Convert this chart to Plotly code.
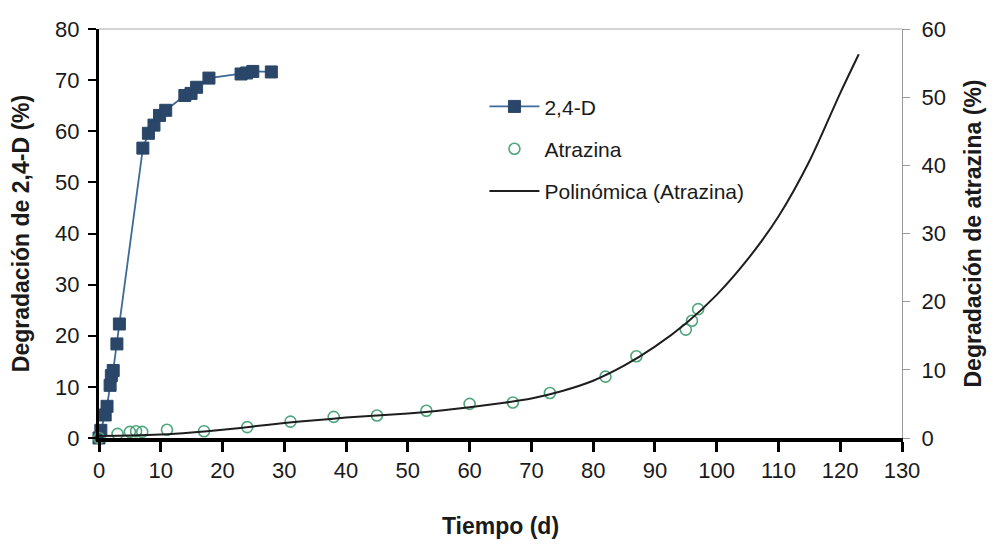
import plotly.graph_objects as go

# 2,4-D degradation (%) vs time (days) - left axis
d24_t = [0, 0.3, 1.0, 1.3, 1.8, 2.0, 2.3, 2.9, 3.3, 7.1, 8.0, 8.9, 9.8, 10.8,
         13.9, 14.9, 15.8, 17.8, 23.0, 23.9, 24.9, 27.9]
d24_deg = [0, 1.5, 4.5, 6.2, 10.3, 12.2, 13.2, 18.4, 22.3, 56.7, 59.6, 61.2, 63.1, 64.1,
           67.0, 67.4, 68.6, 70.4, 71.2, 71.4, 71.7, 71.6]

# Atrazine degradation (%) vs time (days) - right axis
atz_t = [0, 3, 5, 6, 7, 11, 17, 24, 31, 38, 45, 53, 60, 67, 73, 82, 87, 95, 96, 97]
atz_deg = [0, 0.6, 0.9, 1.0, 0.9, 1.2, 1.0, 1.6, 2.4, 3.1, 3.3, 4.0, 5.0, 5.2, 6.6,
           9.0, 12.0, 15.9, 17.2, 18.9]

# Polynomial trend of atrazine degradation, sampled along the curve
trend_t = [0, 5, 10, 15, 20, 25, 30, 35, 40, 45, 50, 55, 60, 65, 70, 75, 80, 85, 90,
           95, 100, 105, 110, 115, 120, 123]
trend_deg = [0.3, 0.35, 0.5, 0.8, 1.2, 1.7, 2.2, 2.6, 3.0, 3.3, 3.6, 4.0, 4.5, 5.1, 5.8,
             6.9, 8.4, 10.6, 13.4, 16.8, 21.0, 26.2, 32.5, 40.6, 50.6, 56.3]

x_ticks = list(range(0, 131, 10))
y1_ticks = list(range(0, 81, 10))
y2_ticks = list(range(0, 61, 10))

FONT = "Liberation Sans, Arial, sans-serif"

fig = go.Figure()

fig.add_trace(go.Scatter(
    x=d24_t, y=d24_deg, name="2,4-D", mode="lines+markers",
    line=dict(color="#3d6a9a", width=1.8),
    marker=dict(symbol="square", size=12, color="#2a4668",
                line=dict(color="#2a4668", width=1)),
    cliponaxis=False, legendgroup="a", yaxis="y",
))

fig.add_trace(go.Scatter(
    x=atz_t, y=atz_deg, name="Atrazina", mode="markers",
    marker=dict(symbol="circle-open", size=11, color="#4fa57c",
                line=dict(color="#4fa57c", width=1.6)),
    cliponaxis=False, legendgroup="b", yaxis="y2",
))

fig.add_trace(go.Scatter(
    x=trend_t, y=trend_deg, name="Polinómica (Atrazina)", mode="lines",
    line=dict(color="#1e1e1e", width=2, shape="spline", smoothing=0.8),
    cliponaxis=False, legendgroup="c", yaxis="y2",
))

fig.update_layout(
    width=994, height=548,
    margin=dict(l=99, r=90, t=29, b=107),
    paper_bgcolor="white", plot_bgcolor="white",
    font=dict(family=FONT, size=22, color="#1a1a1a"),
    showlegend=True,
    legend=dict(
        x=0.48, y=0.86, xanchor="left", yanchor="top",
        bgcolor="rgba(0,0,0,0)", font=dict(size=21, color="#1a1a1a"),
        traceorder="grouped", tracegroupgap=12, itemwidth=50,
    ),
    xaxis=dict(
        range=[0, 130], tickvals=x_ticks, showgrid=False, zeroline=False,
        showline=True, linecolor="black", linewidth=4,
        ticks="outside", ticklen=10, tickwidth=2.5, tickcolor="black",
        tickfont=dict(size=22),
        title=dict(text="<b>Tiempo (d)</b>", font=dict(size=23), standoff=36),
    ),
    yaxis=dict(
        range=[0, 80], tickvals=y1_ticks, showgrid=False, zeroline=False,
        showline=True, linecolor="black", linewidth=3,
        ticks="outside", ticklen=8, tickwidth=2, tickcolor="black",
        tickfont=dict(size=22), ticklabelstandoff=4,
        title=dict(text="<b>Degradación de 2,4-D (%)</b>", font=dict(size=23), standoff=20),
    ),
    yaxis2=dict(
        range=[0, 60], tickvals=y2_ticks, overlaying="y", side="right",
        showgrid=False, zeroline=False,
        showline=True, linecolor="#9a9a9a", linewidth=1,
        ticks="outside", ticklen=7, tickwidth=1, tickcolor="#9a9a9a",
        tickfont=dict(size=22), ticklabelstandoff=7,
        title=dict(text="<b>Degradación de atrazina (%)</b>", font=dict(size=23), standoff=20),
    ),
    shapes=[dict(type="line", xref="paper", yref="paper", x0=0, x1=1, y0=1, y1=1,
                 line=dict(color="#a8a8a8", width=1))],
)

fig.write_html("out.html")
